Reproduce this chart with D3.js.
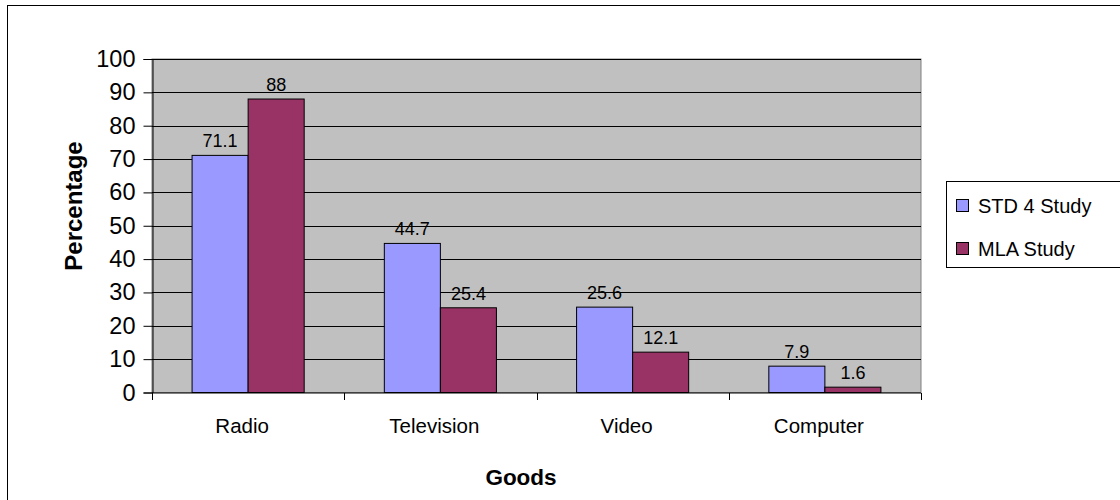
<!DOCTYPE html>
<html><head><meta charset="utf-8">
<script src="https://cdn.jsdelivr.net/npm/d3@7"></script>
<style>body{margin:0;background:#fff}svg{display:block}text{font-family:"Liberation Sans",Arial,sans-serif;fill:#000}</style>
</head><body>
<svg id="c" width="1120" height="500"></svg>
<script>
const categories = ["Radio", "Television", "Video", "Computer"];
const seriesNames = ["STD 4 Study", "MLA Study"];
const std4 = [71.1, 44.7, 25.6, 7.9];
const mla = [88, 25.4, 12.1, 1.6];
const yTicks = [0, 10, 20, 30, 40, 50, 60, 70, 80, 90, 100];
const colors = ["#9999FF", "#993366"];

const svg = d3.select("#c");
const L = 152, R = 921, T = 59, B = 392.5;
const FF = '"Liberation Sans",Arial,sans-serif';

svg.append("rect").attr("x", 7.5).attr("y", 5.5).attr("width", 1130).attr("height", 520)
  .attr("fill", "#fff").attr("stroke", "#000").attr("stroke-width", 1);

const x = d3.scaleBand().domain(categories).range([L, R]);
const xs = d3.scaleBand().domain(seriesNames).range([0, x.bandwidth()]).paddingOuter(0.715).paddingInner(0);
const y = d3.scaleLinear().domain([0, 100]).range([B, T]);

svg.append("rect").attr("x", L).attr("y", T).attr("width", R - L).attr("height", B - T)
  .attr("fill", "#C0C0C0").attr("stroke", "#808080").attr("stroke-width", 1);

// gridlines
svg.append("g").selectAll("line").data(yTicks.filter(d => d > 0)).join("line")
  .attr("x1", L).attr("x2", R)
  .attr("y1", d => Math.round(y(d)) + 0.5).attr("y2", d => Math.round(y(d)) + 0.5)
  .attr("stroke", "#000").attr("stroke-width", 1);

const data = categories.map((c, i) => ({ c, vals: [std4[i], mla[i]] }));
const groups = svg.append("g").selectAll("g").data(data).join("g")
  .attr("transform", d => `translate(${x(d.c)},0)`);
groups.selectAll("rect").data(d => d.vals.map((v, j) => ({ v, s: seriesNames[j], j }))).join("rect")
  .attr("x", d => xs(d.s)).attr("width", xs.bandwidth())
  .attr("y", d => y(d.v)).attr("height", d => B - y(d.v))
  .attr("fill", d => colors[d.j]).attr("stroke", "#000").attr("stroke-width", 1);
groups.selectAll("text").data(d => d.vals.map((v, j) => ({ v, s: seriesNames[j], j }))).join("text")
  .attr("x", d => xs(d.s) + xs.bandwidth() / 2).attr("y", d => y(d.v) - 8)
  .attr("text-anchor", "middle").attr("font-size", 18).text(d => d.v);

// axes
const yAxis = d3.axisLeft(y).tickValues(yTicks).tickSize(9).tickPadding(8);
const gy = svg.append("g").attr("transform", `translate(${L + 0.5},0)`).call(yAxis);
gy.select(".domain").attr("stroke", "#000");
gy.selectAll(".tick line").attr("stroke", "#000");
gy.selectAll("text").attr("font-size", 23.5).attr("font-family", FF).attr("fill", "#000");

const gx = svg.append("g").attr("transform", `translate(0,${B + 0.5})`);
gx.append("line").attr("x1", L).attr("x2", R).attr("stroke", "#000");
gx.selectAll("line.t").data(categories.map(c => x(c)).concat([R])).join("line").attr("class", "t")
  .attr("x1", d => Math.round(d) + 0.5).attr("x2", d => Math.round(d) + 0.5).attr("y1", 0).attr("y2", 7).attr("stroke", "#000");
gx.selectAll("text").data(categories).join("text")
  .attr("x", d => x(d) + x.bandwidth() / 2 - 6).attr("y", 40)
  .attr("text-anchor", "middle").attr("font-size", 20.5).text(d => d);

svg.append("text").attr("x", 521).attr("y", 485).attr("text-anchor", "middle")
  .attr("font-size", 22.5).attr("font-weight", "bold").text("Goods");
svg.append("text").attr("transform", "translate(82,206) rotate(-90)").attr("text-anchor", "middle")
  .attr("font-size", 24).attr("font-weight", "bold").text("Percentage");

// legend
const lg = svg.append("g");
lg.append("rect").attr("x", 946.5).attr("y", 181.5).attr("width", 200).attr("height", 86)
  .attr("fill", "#fff").attr("stroke", "#000");
const li = lg.selectAll("g").data(seriesNames).join("g")
  .attr("transform", (d, i) => `translate(956,${205 + i * 43})`);
li.append("rect").attr("x", 0.5).attr("y", -5.5).attr("width", 12).attr("height", 12)
  .attr("fill", (d, i) => colors[i]).attr("stroke", "#000");
li.append("text").attr("x", 22).attr("y", 7.5).attr("font-size", 20).text(d => d);
</script>
</body></html>
